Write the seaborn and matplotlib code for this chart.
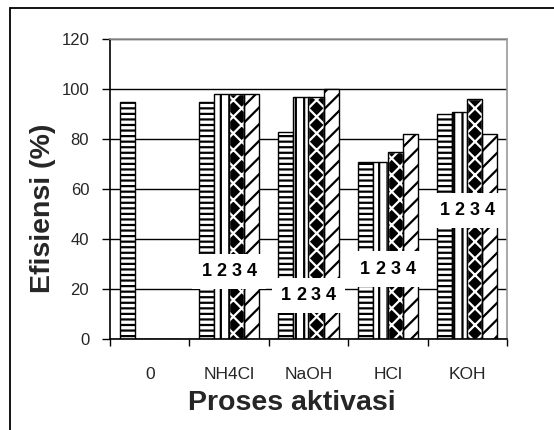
import numpy as np
import pandas as pd
import matplotlib
matplotlib.use("Agg")
import matplotlib.pyplot as plt
import seaborn as sns
from matplotlib.patches import Rectangle

# ---- data ----
categories = ["0", "NH4Cl", "NaOH", "HCl", "KOH"]
series_names = ["1", "2", "3", "4"]
s1 = [95, 95, 83, 71, 90]
s2 = [0, 98, 97, 71, 91]
s3 = [0, 98, 97, 75, 96]
s4 = [0, 98, 100, 82, 82]
label_heights = [None, 27, 17.5, 28, 51.5]
yticks = [0, 20, 40, 60, 80, 100, 120]

df = pd.DataFrame({
    "Proses": categories * 4,
    "Seri": sum([[n] * len(categories) for n in series_names], []),
    "Efisiensi": s1 + s2 + s3 + s4,
})

sns.set_theme(style="white")
plt.rcParams["font.family"] = ["Liberation Sans", "DejaVu Sans"]
plt.rcParams["hatch.linewidth"] = 1.6

fig = plt.figure(figsize=(5.54, 4.30), dpi=100)
ax = fig.add_axes([110 / 554, 1 - 339 / 430, 397 / 554, 300 / 430])

sns.barplot(data=df, x="Proses", y="Efisiensi", hue="Seri", order=categories,
            hue_order=series_names, width=0.76, gap=0, ax=ax, legend=False,
            palette=["white"] * 4, saturation=1, err_kws={"linewidth": 0})

hatches = ["---", "||", "xx", "//"]
for i, cont in enumerate(ax.containers):
    for bar in cont:
        bar.set_hatch(hatches[i])
        bar.set_linewidth(1.0)
        if i == 2:
            bar.set_facecolor("black")
            if hasattr(bar, "set_hatchcolor"):
                bar.set_hatchcolor("white")
                bar.set_edgecolor("black")
            else:
                bar.set_edgecolor("white")
                ax.add_patch(Rectangle(bar.get_xy(), bar.get_width(), bar.get_height(),
                                       fill=False, edgecolor="black", linewidth=1.0, zorder=bar.get_zorder() + 0.1))
        else:
            bar.set_facecolor("white")
            bar.set_edgecolor("black")

# data labels "1 2 3 4": white boxes first, then the digits on top
for layer in (0, 1):
    for i, cont in enumerate(ax.containers):
        for j, bar in enumerate(cont):
            h = label_heights[j]
            if h is None:
                continue
            cx = bar.get_x() + bar.get_width() / 2
            if layer == 0:
                ax.text(cx, h, series_names[i], ha="center", va="center", fontsize=13,
                        fontweight="bold", color="none", zorder=9,
                        bbox=dict(boxstyle="square,pad=0.5", facecolor="white", edgecolor="none"))
            else:
                ax.text(cx, h, series_names[i], ha="center", va="center", fontsize=13,
                        fontweight="bold", color="black", zorder=10)

ax.set_ylim(0, 120)
ax.set_xlim(-0.5, len(categories) - 0.5)
ax.set_yticks(yticks)
ax.set_yticklabels([str(v) for v in yticks], fontsize=12)
ax.yaxis.grid(True, color="black", linewidth=1.0)
ax.set_axisbelow(True)

# x ticks at boundaries, labels at centers
ax.set_xticks(np.arange(-0.5, len(categories), 1.0))
ax.set_xticklabels([])
ax.set_xticks(np.arange(len(categories)), minor=True)
ax.set_xticklabels(categories, minor=True, fontsize=12.5)
ax.tick_params(axis="x", which="major", direction="out", length=5, width=1, color="black", bottom=True)
ax.tick_params(axis="x", which="minor", length=0, pad=20)
ax.tick_params(axis="y", direction="out", length=6, width=1, color="black", left=True, pad=9)

for side in ["left", "bottom"]:
    ax.spines[side].set_color("black")
    ax.spines[side].set_linewidth(1.2)
for side in ["top", "right"]:
    ax.spines[side].set_color("#999999")
    ax.spines[side].set_linewidth(1.2)

ax.set_xlabel("")
ax.set_ylabel("")
fig.text(292 / 554, 1 - 403 / 430, "Proses aktivasi", ha="center", va="center",
         fontsize=20.5, fontweight="bold")
fig.text(43 / 554, 1 - 208 / 430, "Efisiensi (%)", ha="center", va="center",
         rotation=90, fontsize=20.5, fontweight="bold")

# outer frame
fig.patches.append(Rectangle((10 / 554, -0.1), 1.2, 1.1 - 8 / 430, transform=fig.transFigure,
                             fill=False, edgecolor="black", linewidth=1.3))

fig.savefig("out.png", dpi=100, facecolor="white")
